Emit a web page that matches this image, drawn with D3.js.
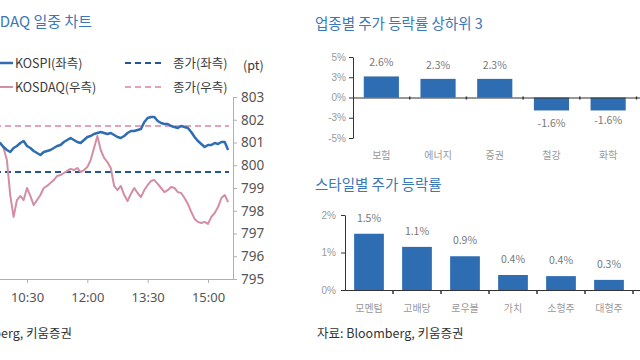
<!DOCTYPE html>
<html><head><meta charset="utf-8">
<script src="https://cdn.jsdelivr.net/npm/d3@7"></script>
<style>
html,body{margin:0;padding:0;background:#fff;}
svg{display:block;font-family:"Noto Sans CJK KR","Noto Sans",sans-serif;}
</style></head>
<body>
<svg id="c" width="640" height="360"></svg>
<script>
// ---------- Intraday chart data ----------
const times = ["09:00","09:05","09:10","09:15","09:20","09:25","09:30","09:35","09:40","09:45",
"09:50","09:55","10:00","10:05","10:10","10:15","10:20","10:25","10:30","10:35",
"10:40","10:45","10:50","10:55","11:00","11:05","11:10","11:15","11:20","11:25",
"11:30","11:35","11:40","11:45","11:50","11:55","12:00","12:05","12:10","12:15",
"12:20","12:25","12:30","12:35","12:40","12:45","12:50","12:55","13:00","13:05",
"13:10","13:15","13:20","13:25","13:30","13:35","13:40","13:45","13:50","13:55",
"14:00","14:05","14:10","14:15","14:20","14:25","14:30","14:35","14:40","14:45",
"14:50","14:55","15:00","15:05","15:10","15:15","15:20","15:25","15:30"];
const kospi = [2508.35,2509.23,2509.89,2509.01,2509.67,2510.33,2509.45,2510.11,2509.23,2509.67,
2509.89,2509.01,2508.35,2507.91,2508.79,2509.23,2509.89,2510.33,2509.23,2508.79,
2508.13,2507.69,2507.25,2507.91,2508.13,2508.35,2508.79,2509.23,2509.45,2510.11,
2510.55,2510.99,2510.55,2510.11,2509.89,2510.55,2511.21,2511.43,2511.87,2512.09,
2512.31,2512.09,2511.87,2512.09,2511.65,2511.21,2510.99,2511.43,2512.09,2512.53,
2512.53,2512.75,2512.97,2514.51,2515.38,2515.60,2515.60,2514.73,2514.29,2514.07,
2514.07,2513.63,2513.41,2513.19,2513.63,2513.41,2513.19,2512.31,2511.21,2510.33,
2509.67,2509.01,2509.45,2509.45,2509.89,2509.67,2510.11,2510.11,2508.35];
const kosdaq = [801.11,801.20,801.29,801.11,801.24,801.07,801.15,801.29,801.11,801.02,
800.98,800.76,800.23,798.69,797.73,798.47,798.65,798.47,799.00,798.65,
798.25,798.47,798.69,799.00,799.09,799.22,799.35,799.53,799.57,799.66,
799.75,799.84,799.79,799.88,799.70,799.79,799.92,800.23,800.76,801.29,
800.67,800.32,800.14,799.88,799.09,798.91,799.09,798.69,798.43,798.74,
799.00,798.78,798.60,798.91,799.13,799.31,799.35,799.18,799.00,798.82,
798.91,799.04,799.00,798.82,798.78,798.56,798.30,797.95,797.64,797.51,
797.46,797.51,797.42,797.73,797.90,798.16,798.56,798.69,798.38];
const kospiPrevClose = 2503.52;
const kosdaqPrevClose = 801.73;
const rightTicks = [795,796,797,798,799,800,801,802,803];
const timeTicks = ["10:30","12:00","13:30","15:00"];

// ---------- Sector chart data ----------
const sectors = ["보험","에너지","증권","철강","화학"];
const sectorValues = [2.6,2.3,2.3,-1.6,-1.6];
const sectorLabels = ["2.6%","2.3%","2.3%","-1.6%","-1.6%"];
const sectorTicks = [5,2.5,0,-2.5,-5];
const sectorTickLabels = ["5%","3%","0%","-3%","-5%"];

// ---------- Style chart data ----------
const styles = ["모멘텀","고배당","로우볼","가치","소형주","대형주"];
const styleValues = [1.5,1.15,0.9,0.4,0.37,0.27];
const styleLabels = ["1.5%","1.1%","0.9%","0.4%","0.4%","0.3%"];
const styleTicks = [0,1,2];
const styleTickLabels = ["0%","1%","2%"];

const svg = d3.select("#c");
const BLUE = "#2f6db3", BLUEDARK = "#24578f", PINK = "#d48ea3", PINKDASH = "#e3a3b6";
const TITLE = "#3a78b8";

// ================= LEFT: intraday =================
const parse = d3.timeParse("%H:%M");
const x = d3.scaleTime().domain([parse("10:30"), parse("15:00")]).range([27, 208]);
const yR = d3.scaleLinear().domain([795, 803]).range([279, 97]);
const yL = d3.scaleLinear().domain([2480, 2520]).range([279, 97]);

svg.append("text").attr("x", 92).attr("y", 27).attr("text-anchor", "end")
  .attr("font-size", 15).attr("fill", TITLE).text("KOSPI, KOSDAQ 일중 차트");

// legend
const lg = svg.append("g").attr("font-size", 12.5).attr("fill", "#3a3a3a");
lg.append("line").attr("x1", -10).attr("x2", 13).attr("y1", 63).attr("y2", 63).attr("stroke", BLUE).attr("stroke-width", 2.5);
lg.append("text").attr("x", 15).attr("y", 68).text("KOSPI(좌측)");
lg.append("line").attr("x1", -10).attr("x2", 13).attr("y1", 87).attr("y2", 87).attr("stroke", PINK).attr("stroke-width", 2);
lg.append("text").attr("x", 15).attr("y", 92).text("KOSDAQ(우측)");
lg.append("line").attr("x1", 125).attr("x2", 165).attr("y1", 63).attr("y2", 63).attr("stroke", BLUEDARK).attr("stroke-width", 2).attr("stroke-dasharray", "6,4");
lg.append("text").attr("x", 173).attr("y", 68).text("종가(좌측)");
lg.append("line").attr("x1", 125).attr("x2", 165).attr("y1", 87).attr("y2", 87).attr("stroke", PINKDASH).attr("stroke-width", 2).attr("stroke-dasharray", "6,4");
lg.append("text").attr("x", 173).attr("y", 92).text("종가(우측)");
lg.append("text").attr("x", 243).attr("y", 70).text("(pt)");

// prev close lines
svg.append("line").attr("x1", -5).attr("x2", 229).attr("y1", yR(kosdaqPrevClose)).attr("y2", yR(kosdaqPrevClose))
  .attr("stroke", PINKDASH).attr("stroke-width", 2).attr("stroke-dasharray", "6,4");
svg.append("line").attr("x1", -5).attr("x2", 229).attr("y1", yL(kospiPrevClose)).attr("y2", yL(kospiPrevClose))
  .attr("stroke", BLUEDARK).attr("stroke-width", 2).attr("stroke-dasharray", "6,4");

const tParsed = times.map(parse);
const lineR = d3.line().x((d, i) => x(tParsed[i])).y(d => yR(d));
const lineL = d3.line().x((d, i) => x(tParsed[i])).y(d => yL(d));
svg.append("path").datum(kosdaq).attr("d", lineR).attr("fill", "none").attr("stroke", PINK).attr("stroke-width", 2).attr("stroke-linejoin", "round");
svg.append("path").datum(kospi).attr("d", lineL).attr("fill", "none").attr("stroke", BLUE).attr("stroke-width", 2.5).attr("stroke-linejoin", "round");

// axes
const xAxis = svg.append("g").attr("transform", "translate(0,279)")
  .call(d3.axisBottom(x).tickValues(timeTicks.map(parse)).tickFormat(d3.timeFormat("%H:%M")).tickSize(4).tickSizeOuter(0));
xAxis.select(".domain").attr("d", "M-5,0.5H233").attr("stroke", "#b0b0b0");
xAxis.selectAll(".tick line").attr("stroke", "#b0b0b0");
xAxis.selectAll(".tick text").attr("font-size", 13).attr("fill", "#555").attr("dy", "1.2em")
  .attr("font-family", "'Noto Sans','Open Sans',sans-serif");

const rAxis = svg.append("g").attr("transform", "translate(233,0)")
  .call(d3.axisRight(yR).tickValues(rightTicks).tickSize(4).tickSizeOuter(4).tickPadding(4));
rAxis.select(".domain").attr("stroke", "#b0b0b0");
rAxis.selectAll(".tick line").attr("stroke", "#b0b0b0");
rAxis.selectAll(".tick text").attr("font-size", 13.5).attr("fill", "#555")
  .attr("font-family", "'Noto Sans','Open Sans',sans-serif");

svg.append("text").attr("x", 72).attr("y", 338).attr("text-anchor", "end").attr("font-size", 12.5).attr("fill", "#333")
  .text("자료: Bloomberg, 키움증권");

// ================= RIGHT TOP: sectors =================
svg.append("text").attr("x", 315).attr("y", 29).attr("font-size", 14.5).attr("fill", TITLE).text("업종별 주가 등락률 상하위 3");
const xs = d3.scaleBand().domain(sectors).range([353, 636.5]).paddingInner(0.38).paddingOuter(0.19);
const ys = d3.scaleLinear().domain([-5, 5]).range([138, 57]);
const g1 = svg.append("g");
g1.selectAll("rect").data(sectorValues).join("rect")
  .attr("x", (d, i) => xs(sectors[i])).attr("width", xs.bandwidth())
  .attr("y", d => ys(Math.max(0, d))).attr("height", d => Math.abs(ys(d) - ys(0)))
  .attr("fill", BLUE);
g1.selectAll("text.v").data(sectorValues).join("text").attr("class", "v")
  .attr("x", (d, i) => xs(sectors[i]) + xs.bandwidth() / 2)
  .attr("y", (d, i) => d >= 0 ? ys(d) - 10 : ys(d) + (i === 3 ? 17 : 14))
  .attr("text-anchor", "middle").attr("font-size", 10.5).attr("fill", "#777")
  .text((d, i) => sectorLabels[i]);
const ya1 = svg.append("g").attr("transform", "translate(353,0)")
  .call(d3.axisLeft(ys).tickValues(sectorTicks).tickFormat((d, i) => sectorTickLabels[i]).tickSize(4).tickSizeOuter(0).tickPadding(3));
ya1.select(".domain").attr("stroke", "#333");
ya1.selectAll(".tick line").attr("stroke", "#333");
ya1.selectAll(".tick text").attr("font-size", 10).attr("fill", "#999");
// zero line with category ticks
const xa1 = svg.append("g").attr("transform", `translate(0,${ys(0)})`)
  .call(d3.axisBottom(xs).tickSize(0).tickFormat(""));
xa1.select(".domain").attr("d", "M353,0.5H645").attr("stroke", "#333").attr("stroke-width", 1.2);
sectors.forEach((s, i) => {
  const bx = xs(s) + xs.bandwidth() + xs.step() * xs.paddingInner() / 2;
  svg.append("line").attr("x1", bx).attr("x2", bx).attr("y1", ys(0) - 1).attr("y2", ys(0) + 2).attr("stroke", "#333").attr("stroke-width", 1.5);
});
svg.append("g").selectAll("text").data(sectors).join("text")
  .attr("x", d => xs(d) + xs.bandwidth() / 2).attr("y", 159).attr("text-anchor", "middle")
  .attr("font-size", 10).attr("fill", "#999").text(d => d);

// ================= RIGHT BOTTOM: styles =================
svg.append("text").attr("x", 315).attr("y", 190).attr("font-size", 14.5).attr("fill", TITLE).text("스타일별 주가 등락률");
const xb = d3.scaleBand().domain(styles).range([345, 633]).paddingInner(0.38).paddingOuter(0.19);
const yb = d3.scaleLinear().domain([0, 2]).range([290, 215]);
const g2 = svg.append("g");
g2.selectAll("rect").data(styleValues).join("rect")
  .attr("x", (d, i) => xb(styles[i])).attr("width", xb.bandwidth())
  .attr("y", d => yb(d)).attr("height", d => yb(0) - yb(d)).attr("fill", BLUE);
g2.selectAll("text").data(styleValues).join("text")
  .attr("x", (d, i) => xb(styles[i]) + xb.bandwidth() / 2).attr("y", d => yb(d) - 12)
  .attr("text-anchor", "middle").attr("font-size", 10.5).attr("fill", "#777")
  .text((d, i) => styleLabels[i]);
const ya2 = svg.append("g").attr("transform", "translate(345,0)")
  .call(d3.axisLeft(yb).tickValues(styleTicks).tickFormat((d, i) => styleTickLabels[i]).tickSize(4).tickSizeOuter(0).tickPadding(5));
ya2.select(".domain").attr("stroke", "#333");
ya2.selectAll(".tick line").attr("stroke", "#333");
ya2.selectAll(".tick text").attr("font-size", 10).attr("fill", "#999");
const xa2 = svg.append("g").attr("transform", "translate(0,290)")
  .call(d3.axisBottom(xb).tickSize(0).tickFormat(""));
xa2.select(".domain").attr("d", "M345,0.5H645").attr("stroke", "#333").attr("stroke-width", 1.2);
styles.forEach((s, i) => {
  const bx = xb(s) + xb.bandwidth() + xb.step() * xb.paddingInner() / 2;
  svg.append("line").attr("x1", bx).attr("x2", bx).attr("y1", 290).attr("y2", 294).attr("stroke", "#333").attr("stroke-width", 1.5);
});
svg.append("g").selectAll("text").data(styles).join("text")
  .attr("x", d => xb(d) + xb.bandwidth() / 2).attr("y", 312).attr("text-anchor", "middle")
  .attr("font-size", 10).attr("fill", "#999").text(d => d);

svg.append("text").attr("x", 317).attr("y", 338).attr("font-size", 12.5).attr("fill", "#333")
  .text("자료: Bloomberg, 키움증권");
</script>
</body></html>
